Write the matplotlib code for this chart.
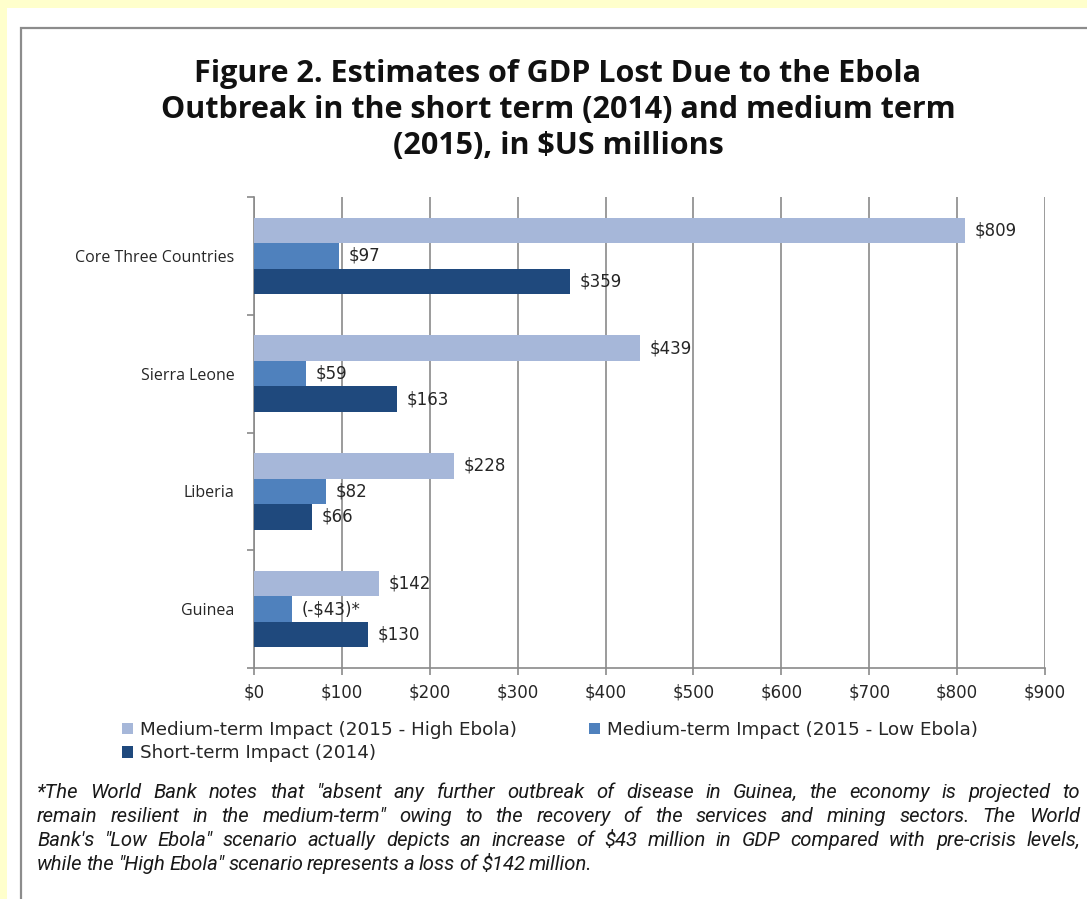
import numpy as np
import matplotlib.pyplot as plt
from matplotlib.patches import Rectangle
from matplotlib.ticker import FuncFormatter, FixedLocator

# data ($US millions)
countries = ["Core Three Countries", "Sierra Leone", "Liberia", "Guinea"]
high_ebola = [809, 439, 228, 142]      # medium-term, 2015 high ebola
low_ebola = [97, 59, 82, 43]           # medium-term, 2015 low ebola (Guinea is a gain)
short_term = [359, 163, 66, 130]       # short-term, 2014
low_labels = ["$97", "$59", "$82", "(-$43)*"]
series_names = ["Medium-term Impact (2015 - High Ebola)",
                "Medium-term Impact (2015 - Low Ebola)",
                "Short-term Impact (2014)"]
x_ticks = [0, 100, 200, 300, 400, 500, 600, 700, 800, 900]

title = ("Figure 2. Estimates of GDP Lost Due to the Ebola\n"
         "Outbreak in the short term (2014) and medium term\n"
         "(2015), in $US millions")
note_lines = [
    '*The World Bank notes that "absent any further outbreak of disease in Guinea, the economy is projected to',
    'remain resilient in the medium-term" owing to the recovery of the services and mining sectors. The World',
    'Bank\'s "Low Ebola" scenario actually depicts an increase of $43 million in GDP compared with pre-crisis levels,',
    'while the "High Ebola" scenario represents a loss of $142 million.',
]

c_light = "#A6B7D9"
c_mid = "#4F81BD"
c_dark = "#1F497D"
txt = "#262626"
sans = "DejaVu Sans"

W, H = 1087, 899
fig = plt.figure(figsize=(W / 100, H / 100), dpi=100)
fig.patch.set_facecolor("#FFFFCC")

# white page with the grey chart frame
fig.add_artist(Rectangle((7 / W, 0), 1, 1 - 8 / H, transform=fig.transFigure,
                         facecolor="white", edgecolor="none", zorder=0))
fig.add_artist(Rectangle((21 / W, -0.05), 1.1, 1.05 - 28 / H, transform=fig.transFigure,
                         facecolor="none", edgecolor="#8C8C8C", lw=1.6, zorder=1))

fig.text(558 / W, 1 - 110 / H, title, ha="center", va="center", fontsize=22,
         fontweight="bold", family="Open Sans", color="#111111", linespacing=1.27)

ax = fig.add_axes([254 / W, 1 - 668 / H, (1045 - 254) / W, (668 - 197) / H])
ax.set_facecolor("none")

pos = np.arange(len(countries))[::-1]
h = 0.217
b1 = ax.barh(pos + h, high_ebola, height=h, color=c_light, label=series_names[0], zorder=3)
b2 = ax.barh(pos, low_ebola, height=h, color=c_mid, label=series_names[1], zorder=3)
b3 = ax.barh(pos - h, short_term, height=h, color=c_dark, label=series_names[2], zorder=3)

lab_kw = dict(va="center", ha="left", fontsize=12, family=sans, color=txt,
              textcoords="offset points", zorder=4)
for bars, labels in [(b1, ["$%d" % v for v in high_ebola]),
                     (b2, low_labels),
                     (b3, ["$%d" % v for v in short_term])]:
    for rect, s in zip(bars, labels):
        ax.annotate(s, (rect.get_width(), rect.get_y() + rect.get_height() / 2),
                    xytext=(7, 0), **lab_kw)

ax.set_xlim(0, 900)
ax.set_ylim(-0.5, len(countries) - 0.5)
ax.xaxis.set_major_locator(FixedLocator(x_ticks))
ax.xaxis.set_major_formatter(FuncFormatter(lambda v, p: "$%d" % v))
ax.grid(axis="x", color="#8A8A8A", lw=1.2, zorder=0)
ax.set_axisbelow(True)

# category separators as ticks on the left axis, names centred in between
ax.yaxis.set_major_locator(FixedLocator(np.arange(-0.5, len(countries), 1.0)))
ax.yaxis.set_major_formatter(FuncFormatter(lambda v, p: ""))
ax.yaxis.set_minor_locator(FixedLocator(pos))
ax.set_yticklabels(countries, minor=True)
ax.tick_params(axis="y", which="major", length=5, color="#8A8A8A", width=1.2)
ax.tick_params(axis="y", which="minor", length=0, pad=14)
ax.tick_params(axis="x", length=5, color="#8A8A8A", width=1.2, pad=6)
for lab in ax.get_xticklabels():
    lab.set_fontfamily(sans)
    lab.set_fontsize(12)
    lab.set_color(txt)
for lab in ax.get_yticklabels(minor=True):
    lab.set_fontfamily("Open Sans")
    lab.set_fontsize(11.5)
    lab.set_color(txt)

for s in ["top", "right"]:
    ax.spines[s].set_visible(False)
for s in ["left", "bottom"]:
    ax.spines[s].set_color("#8A8A8A")
    ax.spines[s].set_linewidth(1.2)

# legend: two items on first row, one on the second
handles, labels = ax.get_legend_handles_labels()
order = [0, 2, 1]
fig.legend([handles[i] for i in order], [labels[i] for i in order],
           loc="upper left", bbox_to_anchor=(122 / W, 1 - 721 / H), ncol=2,
           frameon=False, handlelength=0.6, handleheight=0.6, handletextpad=0.4,
           columnspacing=3.9, labelspacing=0.3, borderpad=0, borderaxespad=0,
           prop={"family": sans, "size": 13.2}, labelcolor=txt)

# footnote, justified line by line
renderer = fig.canvas.get_renderer()
x0, x1 = 37, 1080
for i, line in enumerate(note_lines):
    y = 1 - (798 + 24 * i) / H
    words = line.split(" ")
    texts = [fig.text(0, y, w, ha="left", va="baseline", fontsize=14.6, style="italic",
                      family=["Roboto", "DejaVu Sans"], color="#1A1A1A",
                      parse_math=False) for w in words]
    widths = [t.get_window_extent(renderer).width for t in texts]
    if i < len(note_lines) - 1:
        gap = (x1 - x0 - sum(widths)) / (len(words) - 1)
    else:
        gap = 4.0
    x = x0
    for t, w in zip(texts, widths):
        t.set_x(x / W)
        x += w + gap

fig.savefig("out.png", dpi=100, facecolor=fig.get_facecolor())
